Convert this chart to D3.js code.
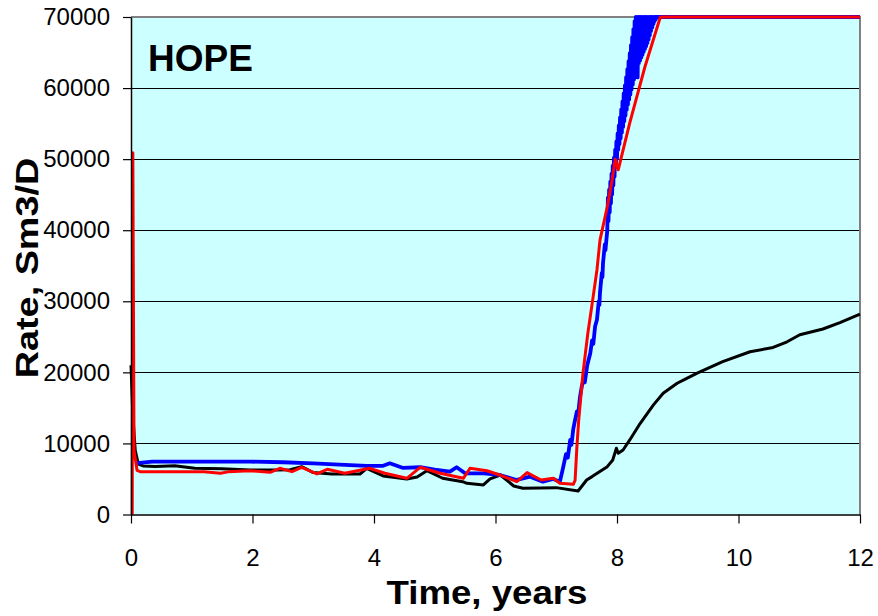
<!DOCTYPE html>
<html>
<head>
<meta charset="utf-8">
<script src="https://cdn.jsdelivr.net/npm/d3@7"></script>
<style>
  html, body { margin: 0; padding: 0; background: #ffffff; }
  svg { display: block; font-family: Arial, "Liberation Sans", sans-serif; }
</style>
</head>
<body>
<svg id="chart" width="878" height="616"></svg>
<script>
// Well title and axis labels
const wellName = "HOPE";
const xTitle = "Time, years";
const yTitle = "Rate, Sm3/D";

// Axis ticks
const xTicks = [0, 2, 4, 6, 8, 10, 12];
const yTicks = [0, 10000, 20000, 30000, 40000, 50000, 60000, 70000];

// Rate history [time (years), rate (Sm3/D)] for each case
const blackRate = [
  [0.00, 21000], [0.03, 14000], [0.07, 9000], [0.12, 7100], [0.20, 6830],
  [0.40, 6740], [0.72, 6870], [1.05, 6500], [1.50, 6450], [1.96, 6270],
  [2.40, 6250], [2.62, 6300], [2.81, 6730], [3.00, 5900], [3.30, 5700],
  [3.77, 5700], [3.88, 6500], [4.15, 5420], [4.54, 5000], [4.71, 5280],
  [4.87, 6170], [5.13, 5100], [5.46, 4620], [5.53, 4390], [5.80, 4160],
  [5.91, 5000], [6.08, 5560], [6.30, 4010], [6.45, 3690], [7.00, 3780],
  [7.36, 3310], [7.50, 4860], [7.59, 5330], [7.84, 6730], [7.93, 7670],
  [7.99, 9320], [8.02, 8620], [8.10, 9080], [8.21, 10490], [8.38, 12800],
  [8.60, 15420], [8.76, 17060], [8.99, 18470], [9.10, 18950], [9.32, 19900],
  [9.74, 21500], [10.19, 22900], [10.57, 23500], [10.80, 24300], [11.01, 25300],
  [11.39, 26100], [11.67, 27000], [12.00, 28200]
];

const blueRate = [
  [0.10, 7240], [0.35, 7430], [1.00, 7450], [1.50, 7430], [1.96, 7440],
  [2.50, 7350], [3.00, 7200], [3.52, 6970], [3.88, 6830], [4.14, 6830],
  [4.26, 7200], [4.48, 6550], [4.76, 6650], [5.00, 6300], [5.25, 6030],
  [5.36, 6650], [5.50, 5800], [5.80, 5800], [6.07, 5560], [6.35, 4860],
  [6.57, 5330], [6.78, 4620], [6.95, 5000], [7.06, 4620], [7.11, 6500],
  [7.16, 8500], [7.19, 8000], [7.23, 10500], [7.25, 9800], [7.28, 12000],
  [7.31, 13300], [7.34, 14500], [7.36, 14000], [7.39, 16500], [7.42, 18000],
  [7.45, 19000], [7.47, 18600], [7.51, 21000], [7.56, 22700], [7.59, 24500],
  [7.61, 24000], [7.64, 26500], [7.67, 27400], [7.70, 30000], [7.71, 29500],
  [7.72, 31200], [7.75, 34000], [7.76, 33400], [7.77, 35400], [7.80, 38000],
  [7.81, 37200], [7.84, 40000],
  // rapid oscillation while ramping up to the rate limit
  [7.85, 44570], [7.86, 41250], [7.87, 45700], [7.88, 42500], [7.89, 46830],
  [7.90, 43770], [7.91, 47960], [7.92, 45020], [7.93, 49090], [7.94, 46280],
  [7.95, 50220], [7.96, 47530], [7.97, 51350], [7.98, 48790], [7.99, 52480],
  [8.00, 50040], [8.01, 53610], [8.02, 51300], [8.03, 54740], [8.04, 52110],
  [8.05, 55870], [8.06, 52910], [8.07, 57000], [8.08, 53720], [8.09, 58130],
  [8.10, 54530], [8.11, 59260], [8.12, 55340], [8.13, 60390], [8.14, 56140],
  [8.15, 61520], [8.16, 56950], [8.17, 62650], [8.18, 57700], [8.19, 63780],
  [8.20, 58400], [8.21, 64910], [8.22, 59100], [8.23, 66040], [8.24, 59800],
  [8.25, 67170], [8.26, 60500], [8.27, 68300], [8.28, 61200], [8.29, 69430],
  [8.30, 61900], [8.31, 70000], [8.32, 62300], [8.33, 70000], [8.34, 61500],
  [8.35, 70000], [8.36, 63500], [8.37, 70000], [8.38, 63900], [8.39, 70000],
  [8.40, 64300], [8.41, 70000], [8.42, 64700], [8.43, 70000], [8.44, 65100],
  [8.45, 70000], [8.46, 65500], [8.47, 70000], [8.48, 65900], [8.49, 70000],
  [8.50, 66300], [8.51, 70000], [8.52, 66800], [8.53, 70000], [8.54, 67400],
  [8.55, 70000], [8.56, 68000], [8.57, 70000], [8.58, 68500], [8.59, 70000],
  [8.60, 69000], [8.61, 70000], [8.62, 69400], [8.63, 70000], [8.64, 69700],
  [8.65, 70000], [8.66, 70000], [12.00, 70000]
];

const redRate = [
  [0.02, 0], [0.03, 50900], [0.05, 9000], [0.10, 6200], [0.15, 6030],
  [0.60, 6030], [1.20, 6030], [1.47, 5800], [1.60, 6000], [1.96, 6170],
  [2.29, 5940], [2.45, 6500], [2.65, 6030], [2.81, 6640], [3.06, 5700],
  [3.23, 6360], [3.52, 5800], [3.93, 6500], [4.18, 5800], [4.54, 5090],
  [4.76, 6640], [5.09, 5800], [5.47, 5090], [5.58, 6500], [5.86, 6150],
  [6.07, 5560], [6.35, 4620], [6.52, 5890], [6.75, 4860], [6.95, 5100],
  [7.06, 4390], [7.28, 4250], [7.31, 4800], [7.34, 9550], [7.37, 13300],
  [7.44, 19900], [7.52, 25500], [7.60, 30200], [7.67, 34400], [7.72, 38600],
  [7.84, 43300], [7.92, 47100], [7.97, 50000], [8.02, 48500], [8.21, 55100],
  [8.46, 63000], [8.71, 69900], [8.72, 70000], [12.00, 70000]
];

const svg = d3.select("#chart");
const plot = { left: 131, right: 860, top: 17, bottom: 514.5 };

const x = d3.scaleLinear().domain([0, 12]).range([plot.left, plot.right]);
const y = d3.scaleLinear().domain([0, 70000]).range([plot.bottom, plot.top]);

// Plot background
svg.append("rect")
  .attr("x", plot.left).attr("y", plot.top)
  .attr("width", plot.right - plot.left).attr("height", plot.bottom - plot.top)
  .attr("fill", "#ccffff");

// Horizontal gridlines
svg.append("g")
  .selectAll("line")
  .data(yTicks.filter(d => d > 0 && d < 70000))
  .join("line")
  .attr("x1", plot.left).attr("x2", plot.right)
  .attr("y1", d => Math.round(y(d)) + 0.5).attr("y2", d => Math.round(y(d)) + 0.5)
  .attr("stroke", "#000").attr("stroke-width", 1);

// Plot frame (top and right)
svg.append("path")
  .attr("d", `M${plot.left},${plot.top}H${plot.right}V${plot.bottom}`)
  .attr("fill", "none").attr("stroke", "#808080").attr("stroke-width", 2);

// Rate curves
const line = d3.line().x(d => x(d[0])).y(d => y(d[1]));
const series = [
  { data: blackRate, color: "#000000", width: 3 },
  { data: blueRate, color: "#0000ff", width: 3.8 },
  { data: redRate, color: "#ff0000", width: 3 }
];
svg.append("g")
  .selectAll("path")
  .data(series)
  .join("path")
  .attr("d", d => line(d.data))
  .attr("fill", "none")
  .attr("stroke", d => d.color)
  .attr("stroke-width", d => d.width)
  .attr("stroke-linejoin", "round");

// Axes
const xAxis = d3.axisBottom(x).tickValues(xTicks).tickFormat(d3.format("d"))
  .tickSizeInner(9).tickSizeOuter(0).tickPadding(25);
const yAxis = d3.axisLeft(y).tickValues(yTicks).tickFormat(d3.format("d"))
  .tickSizeInner(8).tickSizeOuter(0).tickPadding(13);

const gx = svg.append("g").attr("transform", `translate(0,${plot.bottom})`).call(xAxis);
const gy = svg.append("g").attr("transform", `translate(${plot.left},0)`).call(yAxis);

[gx, gy].forEach(g => {
  g.select(".domain").attr("stroke", "#000").attr("stroke-width", 1.5);
  g.selectAll(".tick line").attr("stroke", "#000").attr("stroke-width", 1.2);
  g.selectAll(".tick text")
    .attr("fill", "#000")
    .style("font-family", "Arial, 'Liberation Sans', sans-serif")
    .style("font-size", "24px");
});

// Well name inside the plot
svg.append("text")
  .attr("x", 148).attr("y", 71)
  .style("font-size", "37px").style("font-weight", "bold")
  .attr("fill", "#000")
  .text(wellName);

// Axis titles (slightly widened lettering)
svg.append("text")
  .attr("transform", "translate(487,604) scale(1.11,1)")
  .attr("text-anchor", "middle")
  .style("font-size", "33px").style("font-weight", "bold")
  .text(xTitle);

svg.append("text")
  .attr("transform", "translate(38,268) rotate(-90) scale(1.22,1)")
  .attr("text-anchor", "middle")
  .style("font-size", "31px").style("font-weight", "bold")
  .text(yTitle);
</script>
</body>
</html>
